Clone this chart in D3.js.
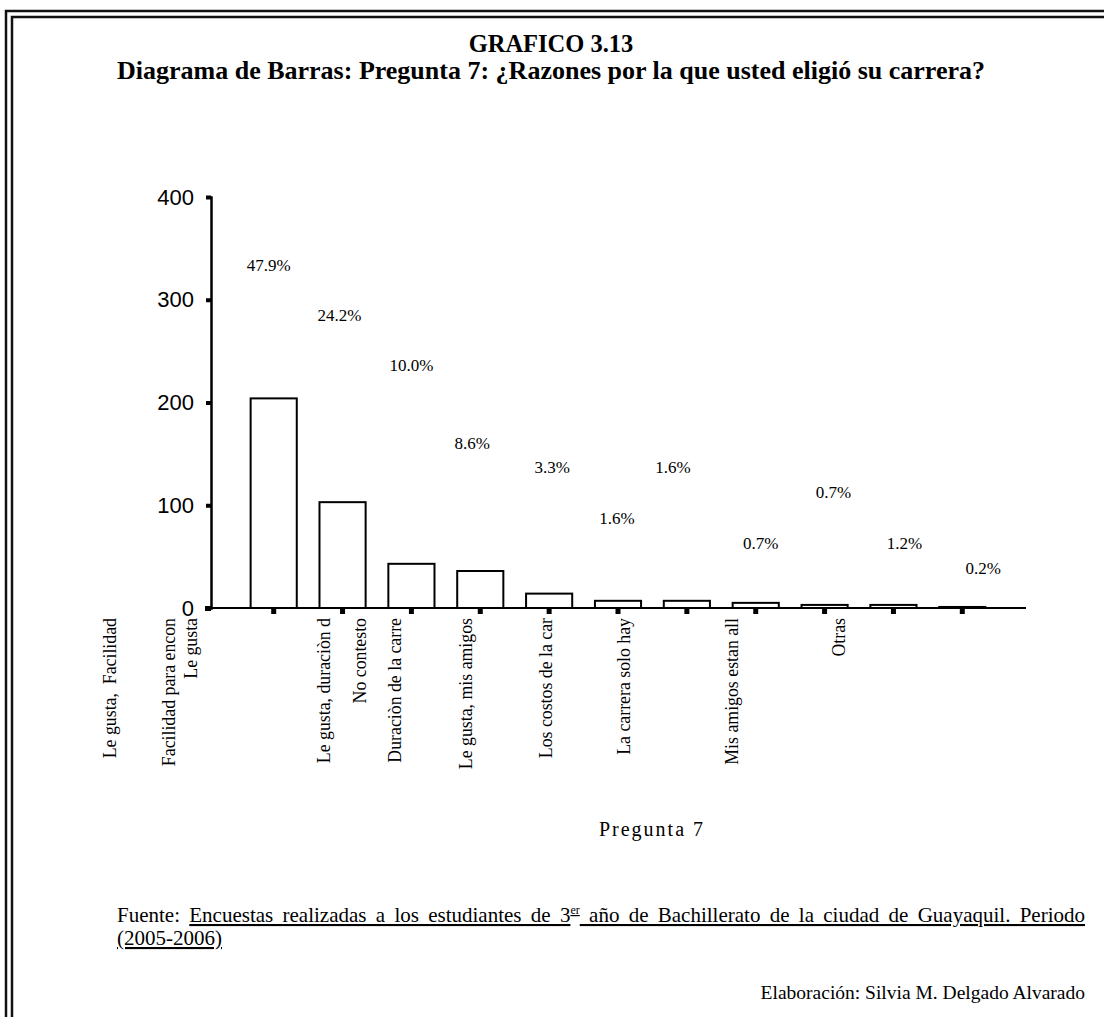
<!DOCTYPE html>
<html>
<head>
<meta charset="utf-8">
<script src="https://cdn.jsdelivr.net/npm/d3@7/dist/d3.min.js"></script>
<style>
  body { margin: 0; background: #fff; }
  svg text { fill: #000; }
  .serif { font-family: "Liberation Serif", "Times New Roman", serif; }
  .sans { font-family: "Liberation Sans", Arial, sans-serif; }
</style>
</head>
<body>
<div id="chart"></div>
<script>
// chart values
var categories = ["Le gusta", "Le gusta,  Facilidad", "Facilidad para encon", "Le gusta, duraciòn d",
    "No contesto", "Duraciòn de la carre", "Le gusta, mis amigos", "Los costos de la car",
    "La carrera solo hay", "Mis amigos estan all", "Otras"];
var counts = [204, 103, 43, 36, 14, 7, 7, 5, 3, 3, 1];
var percents = ["47.9%", "24.2%", "10.0%", "8.6%", "3.3%", "1.6%", "1.6%", "0.7%", "0.7%", "1.2%", "0.2%"];
var yTicks = [0, 100, 200, 300, 400];

// where the percentage labels sit (in y units) and how far they drift from the bar centre
var labelAt = [334, 285, 236, 161, 137, 88, 137, 63, 113, 63, 39];
var labelDx = [-5, -3, 0, -8, 3, -1, -14, 5, 9, 11, 21];
// category labels are offset from their bars, as in the original
var catDx = [-83, -233, -243, -157, -189, -223, -221, -210, -201, -162, -124];

var W = 1104, H = 1017;
var svg = d3.select("#chart").append("svg")
    .attr("width", W)
    .attr("height", H);

// double border (left and top only are visible)
[[6, 11], [12, 17]].forEach(function(p) {
    svg.append("path")
        .attr("d", "M" + p[0] + "," + H + "V" + p[1] + "H" + W)
        .attr("fill", "none")
        .attr("stroke", "#111")
        .attr("stroke-width", 2.5);
});

// titles
svg.append("text").attr("class", "serif")
    .attr("x", 551).attr("y", 52)
    .attr("text-anchor", "middle")
    .style("font-size", "24.5px").style("font-weight", "bold")
    .text("GRAFICO 3.13");
svg.append("text").attr("class", "serif")
    .attr("x", 551).attr("y", 79)
    .attr("text-anchor", "middle")
    .style("font-size", "26px").style("font-weight", "bold")
    .text("Diagrama de Barras: Pregunta 7: ¿Razones por la que usted eligió su carrera?");

// scales
var x = d3.scaleBand()
    .domain(categories)
    .range([210, 1026])
    .paddingInner(0.33)
    .paddingOuter(0.59);
var y = d3.scaleLinear()
    .domain([0, 400])
    .range([608, 197]);

// bars
svg.selectAll(".bar")
    .data(categories)
    .enter().append("rect")
    .attr("class", "bar")
    .attr("x", function(d) { return x(d); })
    .attr("width", x.bandwidth())
    .attr("y", function(d, i) { return y(counts[i]); })
    .attr("height", function(d, i) { return y(0) - y(counts[i]); })
    .attr("fill", "#fff")
    .attr("stroke", "#000")
    .attr("stroke-width", 2);

// y axis
var yAxis = svg.append("g")
    .attr("transform", "translate(211,0)")
    .call(d3.axisLeft(y).tickValues(yTicks).tickSize(5).tickPadding(12));
yAxis.select(".domain").attr("stroke", "#000").attr("stroke-width", 2.5);
yAxis.selectAll(".tick line").attr("stroke", "#000").attr("stroke-width", 4);
yAxis.selectAll(".tick text")
    .attr("class", "sans")
    .style("font-size", "22px")
    .attr("fill", "#000");

// x axis
var xAxis = svg.append("g")
    .attr("transform", "translate(0,608)")
    .call(d3.axisBottom(x).tickSize(6).tickSizeOuter(0).tickFormat(""));
xAxis.select(".domain").attr("d", "M205,0H1026").attr("stroke", "#000").attr("stroke-width", 2);
xAxis.selectAll(".tick line").attr("stroke", "#000").attr("stroke-width", 5);
svg.append("rect")
    .attr("x", 205).attr("y", 606).attr("width", 6).attr("height", 5)
    .attr("fill", "#000");

// percentage labels
svg.selectAll(".pct")
    .data(percents)
    .enter().append("text")
    .attr("class", "serif pct")
    .attr("x", function(d, i) { return x(categories[i]) + x.bandwidth() / 2 + labelDx[i]; })
    .attr("y", function(d, i) { return y(labelAt[i]); })
    .attr("dy", "0.35em")
    .attr("text-anchor", "middle")
    .style("font-size", "17px")
    .text(function(d) { return d; });

// category labels (vertical)
svg.selectAll(".cat")
    .data(categories)
    .enter().append("text")
    .attr("class", "serif cat")
    .attr("transform", function(d, i) {
        return "translate(" + (x(d) + x.bandwidth() / 2 + catDx[i]) + ",618) rotate(-90)";
    })
    .attr("dy", "0.35em")
    .attr("text-anchor", "end")
    .style("font-size", "17.8px")
    .style("white-space", "pre")
    .text(function(d) { return d; });

// axis title
svg.append("text").attr("class", "serif")
    .attr("x", 652).attr("y", 836)
    .attr("text-anchor", "middle")
    .style("font-size", "20px")
    .style("letter-spacing", "2px")
    .text("Pregunta 7");

// source note, first line justified to the right margin like the document
var src = svg.append("text").attr("class", "serif")
    .attr("x", 117).attr("y", 922)
    .style("font-size", "21px");
src.append("tspan").text("Fuente: ");
src.append("tspan").style("text-decoration", "underline").text("Encuestas realizadas a los estudiantes de 3");
src.append("tspan").attr("dy", -8).style("font-size", "12px").style("text-decoration", "underline").text("er");
src.append("tspan").attr("dy", 8).style("text-decoration", "underline")
    .text(" año de Bachillerato de la ciudad de Guayaquil. Periodo");
var target = 1085 - 117;
var ws = 0;
for (var k = 0; k < 3; k++) {
    var len = src.node().getBBox().width;
    ws += (target - len) / 15;
    src.style("word-spacing", ws + "px");
}

svg.append("text").attr("class", "serif")
    .attr("x", 117).attr("y", 945)
    .style("font-size", "21px")
    .style("text-decoration", "underline")
    .text("(2005-2006)");

svg.append("text").attr("class", "serif")
    .attr("x", 1085).attr("y", 999)
    .attr("text-anchor", "end")
    .style("font-size", "19.5px")
    .text("Elaboración: Silvia M. Delgado Alvarado");
</script>
</body>
</html>
